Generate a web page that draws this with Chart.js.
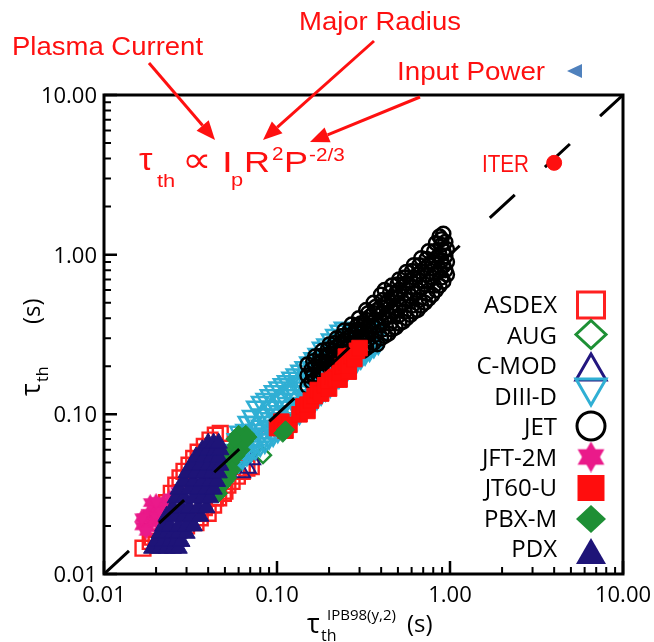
<!DOCTYPE html>
<html><head><meta charset="utf-8">
<script src="https://cdn.jsdelivr.net/npm/chart.js@4"></script>
<style>html,body{margin:0;padding:0;background:#fff;}canvas{display:block;}</style>
</head><body>
<canvas id="c" width="654" height="642"></canvas>
<script>
// ---- tick definitions ----
const majorTicks = [0.01, 0.1, 1, 10];
const tickLabels = ['0.01', '0.10', '1.00', '10.00'];
const minorTicks = [0.02,0.03,0.04,0.05,0.06,0.07,0.08,0.09,0.2,0.3,0.4,0.5,0.6,0.7,0.8,0.9,2,3,4,5,6,7,8,9];

// ---- data: [tau_IPB98(y,2), tau_th] in seconds ----
const ASDEX = [[0.0168,0.0145],[0.0190,0.0170],[0.0200,0.0155],[0.0185,0.0160],
 [0.0200,0.0190],[0.0215,0.0235],[0.0230,0.0280],[0.0245,0.0320],[0.0260,0.0360],[0.0275,0.0400],[0.0290,0.0440],[0.0310,0.0480],[0.0330,0.0530],[0.0350,0.0580],[0.0380,0.0630],[0.0410,0.0690],[0.0440,0.0740],[0.0470,0.0760],
 [0.0340,0.0210],[0.0360,0.0225],[0.0400,0.0240],[0.0430,0.0270],[0.0460,0.0300],[0.0490,0.0320],[0.0520,0.0360],[0.0550,0.0380],[0.0590,0.0410],[0.0630,0.0440],[0.0670,0.0460],[0.0710,0.0470],
 [0.0310,0.0240],[0.0300,0.0200],[0.0380,0.0260],[0.0440,0.0300],[0.0500,0.0330]];
const AUG = [[0.083,0.0555],[0.060,0.050],[0.150,0.120],[0.115,0.092]];
const CMOD = [[0.068,0.046],[0.063,0.043],[0.072,0.052],[0.090,0.080]];
const DIIID = [[0.050,0.042],[0.050,0.052],[0.053,0.045],[0.053,0.056],[0.056,0.047],[0.056,0.060],[0.060,0.050],[0.060,0.064],[0.060,0.078],[0.063,0.052],[0.063,0.068],[0.067,0.055],[0.067,0.072],[0.067,0.090],[0.071,0.058],[0.071,0.076],[0.071,0.098],[0.075,0.060],[0.075,0.080],[0.075,0.112],[0.080,0.063],[0.080,0.085],[0.080,0.120],[0.085,0.066],[0.085,0.090],[0.085,0.125],[0.090,0.070],[0.090,0.095],[0.090,0.132],[0.095,0.073],[0.095,0.100],[0.095,0.140],[0.101,0.077],[0.101,0.105],[0.101,0.148],[0.107,0.082],[0.107,0.112],[0.107,0.155],[0.113,0.086],[0.113,0.118],[0.113,0.162],[0.120,0.090],[0.120,0.125],[0.120,0.170],[0.127,0.095],[0.127,0.132],[0.127,0.178],[0.135,0.100],[0.135,0.140],[0.135,0.188],[0.143,0.106],[0.143,0.148],[0.143,0.198],[0.152,0.112],[0.152,0.158],[0.152,0.212],[0.161,0.118],[0.161,0.168],[0.161,0.225],[0.170,0.124],[0.170,0.176],[0.170,0.240],[0.180,0.132],[0.180,0.186],[0.180,0.262],[0.191,0.140],[0.191,0.196],[0.191,0.275],[0.203,0.148],[0.203,0.208],[0.203,0.295],[0.215,0.158],[0.215,0.220],[0.215,0.315],[0.228,0.168],[0.228,0.232],[0.228,0.335],[0.241,0.178],[0.241,0.245],[0.241,0.350],[0.256,0.188],[0.256,0.260],[0.271,0.198],[0.271,0.275],[0.288,0.210],[0.288,0.290],[0.305,0.222],[0.305,0.300],[0.323,0.235],[0.323,0.310],[0.343,0.248],[0.343,0.320],[0.363,0.262],[0.363,0.330],[0.385,0.275],[0.385,0.340],
 [0.058,0.055],[0.058,0.070],[0.065,0.060],[0.065,0.080],[0.073,0.068],[0.073,0.090],[0.082,0.075],[0.082,0.100],[0.092,0.083],[0.092,0.112],[0.104,0.093],[0.104,0.125],[0.117,0.104],[0.117,0.140],[0.131,0.117],[0.131,0.158],[0.147,0.130],[0.147,0.175],[0.165,0.145],[0.165,0.198],[0.185,0.160],[0.185,0.222],[0.209,0.180],[0.209,0.250],[0.235,0.200],[0.235,0.280],[0.263,0.225],[0.263,0.300],[0.296,0.250],[0.296,0.320],[0.333,0.275],[0.333,0.330],[0.373,0.300],[0.373,0.350]];
const JET = [[0.150,0.150],[0.150,0.175],[0.150,0.205],[0.158,0.160],[0.158,0.190],[0.166,0.165],[0.166,0.200],[0.166,0.230],[0.174,0.175],[0.174,0.210],[0.183,0.180],[0.183,0.215],[0.183,0.250],[0.192,0.190],[0.192,0.230],[0.202,0.200],[0.202,0.240],[0.202,0.275],[0.212,0.205],[0.212,0.250],[0.222,0.215],[0.222,0.265],[0.222,0.300],[0.233,0.225],[0.233,0.275],[0.245,0.235],[0.245,0.290],[0.245,0.335],[0.257,0.245],[0.257,0.300],[0.270,0.255],[0.270,0.315],[0.270,0.365],[0.284,0.265],[0.284,0.330],[0.298,0.270],[0.298,0.340],[0.298,0.400],[0.313,0.250],[0.313,0.300],[0.313,0.360],[0.328,0.260],[0.328,0.320],[0.328,0.390],[0.328,0.450],[0.345,0.270],[0.345,0.340],[0.345,0.410],[0.362,0.280],[0.362,0.350],[0.362,0.430],[0.362,0.500],[0.380,0.275],[0.380,0.360],[0.380,0.450],[0.399,0.300],[0.399,0.380],[0.399,0.470],[0.399,0.560],[0.419,0.310],[0.419,0.400],[0.419,0.490],[0.419,0.600],[0.440,0.320],[0.440,0.420],[0.440,0.510],[0.462,0.340],[0.462,0.440],[0.462,0.540],[0.462,0.640],[0.485,0.350],[0.485,0.460],[0.485,0.570],[0.509,0.370],[0.509,0.480],[0.509,0.600],[0.509,0.700],[0.535,0.380],[0.535,0.500],[0.535,0.630],[0.561,0.400],[0.561,0.520],[0.561,0.660],[0.561,0.780],[0.590,0.420],[0.590,0.550],[0.590,0.690],[0.619,0.440],[0.619,0.570],[0.619,0.720],[0.619,0.860],[0.650,0.450],[0.650,0.600],[0.650,0.750],[0.682,0.480],[0.682,0.620],[0.682,0.780],[0.682,0.950],[0.716,0.500],[0.716,0.650],[0.716,0.820],[0.752,0.530],[0.752,0.680],[0.752,0.860],[0.752,1.050],[0.790,0.560],[0.790,0.720],[0.790,0.900],[0.830,0.600],[0.830,0.760],[0.830,0.950],[0.830,1.180],[0.870,0.640],[0.870,0.800],[0.870,1.000],[0.870,1.300],[0.915,0.680],[0.915,0.850],[0.915,1.060],[0.915,1.350],[0.960,0.750],[0.960,0.900],[0.960,1.080],
 [0.305,0.285],[0.305,0.320],[0.305,0.370],[0.337,0.295],[0.337,0.360],[0.337,0.430],[0.371,0.315],[0.371,0.390],[0.371,0.470],[0.409,0.340],[0.409,0.430],[0.409,0.520],[0.451,0.370],[0.451,0.470],[0.451,0.580],[0.497,0.410],[0.497,0.530],[0.497,0.650],[0.548,0.440],[0.548,0.570],[0.548,0.720],[0.604,0.480],[0.604,0.630],[0.604,0.790],[0.666,0.520],[0.666,0.690],[0.666,0.860],[0.734,0.570],[0.734,0.750],[0.734,0.940],[0.810,0.640],[0.810,0.820],[0.810,1.050],[0.892,0.720],[0.892,0.920],[0.892,1.150],[0.892,1.250],[0.940,0.800],[0.940,0.980],[0.940,1.200],
 [0.162,0.175],[0.162,0.215],[0.178,0.190],[0.178,0.232],[0.197,0.205],[0.197,0.255],[0.217,0.225],[0.217,0.280],[0.239,0.245],[0.239,0.310],[0.263,0.270],[0.263,0.335],[0.291,0.290],[0.291,0.360]];
const JFT2M = [[0.0165,0.0200],[0.0170,0.0225],[0.0180,0.0195],[0.0180,0.0240],[0.0190,0.0215],[0.0195,0.0260],[0.0200,0.0230],[0.0210,0.0250],[0.0215,0.0210],[0.0220,0.0280],[0.0230,0.0270],[0.0175,0.0185],[0.0240,0.0300],[0.0265,0.0330],[0.0185,0.0280],[0.0200,0.0285],[0.0165,0.0225],[0.0210,0.0195]];
const JT60U = [[0.100,0.082],[0.106,0.090],[0.112,0.079],[0.118,0.086],[0.135,0.100],[0.142,0.112],[0.150,0.105],[0.150,0.115],[0.157,0.122],[0.165,0.130],[0.172,0.142],[0.180,0.135],[0.190,0.152],[0.200,0.145],[0.200,0.162],[0.210,0.172],[0.220,0.166],[0.230,0.165],[0.230,0.182],[0.240,0.200],[0.250,0.212],[0.250,0.230],[0.260,0.185],[0.260,0.202],[0.270,0.232],[0.280,0.222],[0.290,0.250],[0.300,0.260]];
const PBXM = [[0.046,0.032],[0.048,0.036],[0.047,0.040],[0.050,0.043],[0.052,0.047],[0.053,0.052],[0.055,0.056],[0.056,0.060],[0.058,0.064],[0.060,0.068],[0.062,0.070],[0.064,0.073],[0.066,0.075],[0.054,0.050],[0.050,0.038],[0.050,0.050],[0.055,0.045],[0.058,0.055],[0.062,0.060],[0.060,0.075],[0.065,0.068],[0.052,0.040],[0.049,0.046],[0.057,0.070],[0.068,0.072],[0.108,0.076],[0.112,0.080]];
const PDX = [[0.019,0.0145],[0.021,0.0145],[0.023,0.0145],[0.025,0.0145],[0.027,0.0145],
 [0.020,0.016],[0.022,0.016],[0.024,0.016],[0.026,0.016],[0.028,0.016],
 [0.021,0.018],[0.023,0.018],[0.025,0.018],[0.027,0.018],[0.030,0.018],
 [0.022,0.020],[0.024,0.020],[0.027,0.020],[0.030,0.020],[0.033,0.020],
 [0.023,0.023],[0.026,0.023],[0.029,0.023],[0.032,0.023],[0.036,0.023],
 [0.025,0.026],[0.028,0.026],[0.031,0.026],[0.035,0.026],[0.039,0.026],
 [0.026,0.030],[0.029,0.030],[0.033,0.030],[0.037,0.030],[0.041,0.030],
 [0.027,0.034],[0.031,0.034],[0.035,0.034],[0.039,0.034],[0.043,0.034],
 [0.029,0.038],[0.033,0.038],[0.037,0.038],[0.041,0.038],[0.045,0.038],
 [0.030,0.043],[0.034,0.043],[0.038,0.043],[0.042,0.043],[0.046,0.043],
 [0.032,0.048],[0.036,0.048],[0.040,0.048],[0.044,0.048],[0.047,0.048],
 [0.034,0.054],[0.038,0.054],[0.042,0.054],[0.046,0.054],
 [0.037,0.060],[0.040,0.060],[0.044,0.060],[0.047,0.060],
 [0.040,0.066],[0.043,0.066],[0.046,0.066]];
const ITER = [[4.0, 3.76]];
const unityLine = [0.01, 10];

const RED = '#fe1010';
const pts = a => a.map(([x, y]) => ({x, y}));

function hexagram(size, color) {
  const c = document.createElement('canvas');
  c.width = size; c.height = size;
  const g = c.getContext('2d');
  const r = size / 2;
  g.fillStyle = color;
  for (const rot of [0, Math.PI]) {
    g.beginPath();
    for (let k = 0; k < 3; k++) {
      const a = rot + k * 2 * Math.PI / 3 - Math.PI / 2;
      const px = r + r * Math.cos(a), py = r + r * Math.sin(a);
      if (k) g.lineTo(px, py); else g.moveTo(px, py);
    }
    g.closePath(); g.fill();
  }
  return c;
}

const series = [
  {label:'ASDEX', data:ASDEX, style:'rect', r:10.5, color:'#ff2020', fill:false, bw:2.4},
  {label:'AUG', data:AUG, style:'rectRot', r:8, color:'#1e9035', fill:false, bw:2.4},
  {label:'C-MOD', data:CMOD, style:'triangle', r:9, color:'#22167f', fill:false, bw:2},
  {label:'DIII-D', data:DIIID, style:'triangle', rot:180, r:9.5, color:'#30afd4', fill:false, bw:2.5},
  {label:'JET', data:JET, style:'circle', r:7, color:'#000000', fill:false, bw:2.5},
  {label:'JFT-2M', data:JFT2M, style:'hex', r:8, color:'#ea1a8a', fill:true, bw:1},
  {label:'JT60-U', data:JT60U, style:'rect', r:11, color:'#ff0d0d', fill:true, bw:1},
  {label:'PBX-M', data:PBXM, style:'rectRot', r:9, color:'#1e8f35', fill:true, bw:1},
  {label:'PDX', data:PDX, style:'triangle', r:10, color:'#1e1478', fill:true, bw:1}
];

const datasets = [];
datasets.push({type:'scatter', label:'ITER', data:pts(ITER), pointStyle:'circle', pointRadius:7.5,
  pointBackgroundColor:RED, pointBorderColor:RED, pointBorderWidth:1, order:-1});
datasets.push({type:'line', label:'unity', data:unityLine.map(v => ({x:v, y:v})), borderColor:'#000',
  borderWidth:3, borderDash:[34, 41], pointRadius:0, fill:false, order:0});
series.forEach((s, i) => {
  datasets.push({type:'scatter', label:s.label, data:pts(s.data),
    pointStyle: s.style === 'hex' ? hexagram(17, s.color) : s.style,
    pointRotation: s.rot || 0, pointRadius: s.r,
    pointBackgroundColor: s.fill ? s.color : 'rgba(0,0,0,0)',
    pointBorderColor: s.color, pointBorderWidth: s.bw,
    order: series.length - i});
});

function txt(ctx, s, x, y, size, family, color, align, sx) {
  ctx.save();
  ctx.font = size + 'px ' + family;
  ctx.fillStyle = color;
  ctx.textAlign = align || 'left';
  ctx.textBaseline = 'alphabetic';
  ctx.translate(x, y);
  ctx.scale(sx || 1, 1);
  ctx.fillText(s, 0, 0);
  ctx.restore();
}
function arrow(ctx, x1, y1, x2, y2) {
  const a = Math.atan2(y2 - y1, x2 - x1), L = 19, W = 8;
  const bx = x2 - L * Math.cos(a), by = y2 - L * Math.sin(a);
  ctx.save();
  ctx.strokeStyle = RED; ctx.fillStyle = RED; ctx.lineWidth = 3;
  ctx.beginPath(); ctx.moveTo(x1, y1); ctx.lineTo(bx, by); ctx.stroke();
  ctx.beginPath(); ctx.moveTo(x2, y2);
  ctx.lineTo(bx + W * Math.sin(a), by - W * Math.cos(a));
  ctx.lineTo(bx - W * Math.sin(a), by + W * Math.cos(a));
  ctx.closePath(); ctx.fill();
  ctx.restore();
}
function legendMarker(ctx, s, x, y) {
  ctx.save();
  ctx.strokeStyle = s.color; ctx.fillStyle = s.color; ctx.lineWidth = 3;
  ctx.beginPath();
  if (s.style === 'rect') {
    ctx.rect(x - 13.5, y - 13, 27, 26);
  } else if (s.style === 'rectRot') {
    ctx.moveTo(x, y - 14); ctx.lineTo(x + 15, y); ctx.lineTo(x, y + 14); ctx.lineTo(x - 15, y); ctx.closePath();
  } else if (s.style === 'triangle') {
    if (s.rot) { ctx.moveTo(x - 15, y - 13); ctx.lineTo(x + 15, y - 13); ctx.lineTo(x, y + 13); }
    else { ctx.moveTo(x - 15, y + 13); ctx.lineTo(x + 15, y + 13); ctx.lineTo(x, y - 13); }
    ctx.closePath();
  } else if (s.style === 'circle') {
    ctx.arc(x, y, 14, 0, Math.PI * 2);
  }
  if (s.style === 'hex') {
    ctx.drawImage(hexagram(31, s.color), x - 15.5, y - 15.5);
  } else if (s.fill) ctx.fill(); else ctx.stroke();
  ctx.restore();
}

const decor = {
  id: 'decor',
  afterDraw(chart) {
    const {ctx, chartArea: a, scales: {x, y}} = chart;
    ctx.save();
    ctx.strokeStyle = '#000';
    ctx.lineWidth = 2;
    ctx.beginPath();
    minorTicks.forEach(v => {
      const px = x.getPixelForValue(v), py = y.getPixelForValue(v);
      ctx.moveTo(px, a.bottom); ctx.lineTo(px, a.bottom - 7);
      ctx.moveTo(a.left, py); ctx.lineTo(a.left + 7, py);
    });
    ctx.stroke();
    ctx.lineWidth = 2.5;
    ctx.beginPath();
    majorTicks.forEach(v => {
      const px = x.getPixelForValue(v), py = y.getPixelForValue(v);
      ctx.moveTo(px, a.bottom); ctx.lineTo(px, a.bottom - 13);
      ctx.moveTo(a.left, py); ctx.lineTo(a.left + 13, py);
    });
    ctx.stroke();
    ctx.lineWidth = 3;
    ctx.strokeRect(a.left, a.top, a.right - a.left, a.bottom - a.top);
    ctx.restore();

    const F = '"Open Sans", sans-serif';
    majorTicks.forEach((v, i) => {
      txt(ctx, tickLabels[i], a.left - 7, y.getPixelForValue(v) + 8, 22, F, '#000', 'right');
      txt(ctx, tickLabels[i], x.getPixelForValue(v), a.bottom + 28, 22, F, '#000', 'center');
    });

    // axis titles
    txt(ctx, 'τ', 307, 633, 27, F, '#000');
    txt(ctx, 'th', 321, 641, 16, F, '#000');
    txt(ctx, 'IPB98(y,2)', 327, 620, 15, F, '#000');
    txt(ctx, '(s)', 407, 632, 24, F, '#000');
    ctx.save();
    ctx.translate(40, 396); ctx.rotate(-Math.PI / 2);
    txt(ctx, 'τ', 0, 0, 27, F, '#000');
    txt(ctx, 'th', 14, 8, 16, F, '#000');
    txt(ctx, '(s)', 72, 0, 24, F, '#000');
    ctx.restore();

    // legend
    const rows = [304, 334.5, 365, 395.5, 426, 456.5, 487, 517.5, 548];
    const mk = [305, 334.5, 367, 392, 426, 457, 488, 519, 551];
    series.forEach((s, i) => {
      txt(ctx, s.label, 557, rows[i] + 9, 24, F, '#000', 'right');
      legendMarker(ctx, s, 591, mk[i]);
    });

    // annotations
    const L = '"Liberation Sans", Arial, sans-serif';
    txt(ctx, 'Plasma Current', 12, 55, 25, L, RED, 'left', 1.1);
    txt(ctx, 'Major Radius', 299, 30, 25, L, RED, 'left', 1.1);
    txt(ctx, 'Input Power', 397, 80, 25, L, RED, 'left', 1.11);
    txt(ctx, 'ITER', 529, 172, 24, L, RED, 'right', 0.86);
    arrow(ctx, 149, 63, 215, 140);
    arrow(ctx, 374, 41, 263, 140);
    arrow(ctx, 420, 97, 310, 142);
    // formula
    txt(ctx, 'τ', 139, 170, 31, L, RED, 'left', 1.1);
    txt(ctx, 'th', 157, 187, 19, L, RED, 'left', 1.15);
    txt(ctx, '∝', 182, 172, 36, L, RED, 'left', 1.15);
    txt(ctx, 'I', 222, 172, 30, L, RED, 'left', 1.3);
    txt(ctx, 'p', 231, 186, 19, L, RED, 'left', 1.15);
    txt(ctx, 'R', 244, 172, 30, L, RED, 'left', 1.2);
    txt(ctx, '2', 272, 160, 18, L, RED, 'left', 1.15);
    txt(ctx, 'P', 284, 172, 30, L, RED, 'left', 1.2);
    txt(ctx, '-2/3', 309, 161, 18, L, RED, 'left', 1.15);

    // small blue marker at top right
    ctx.save();
    ctx.fillStyle = '#4f81bd';
    ctx.beginPath(); ctx.moveTo(567, 71); ctx.lineTo(582, 64); ctx.lineTo(582, 78); ctx.closePath(); ctx.fill();
    ctx.restore();
  }
};

new Chart(document.getElementById('c'), {
  type: 'scatter',
  data: { datasets },
  options: {
    responsive: false,
    animation: false,
    events: [],
    layout: { padding: { left: 104, top: 95, right: 31, bottom: 68 } },
    scales: {
      x: { type: 'logarithmic', min: 0.01, max: 10, display: false },
      y: { type: 'logarithmic', min: 0.01, max: 10, display: false }
    },
    plugins: { legend: { display: false }, tooltip: { enabled: false } }
  },
  plugins: [decor]
});
</script>
</body></html>
